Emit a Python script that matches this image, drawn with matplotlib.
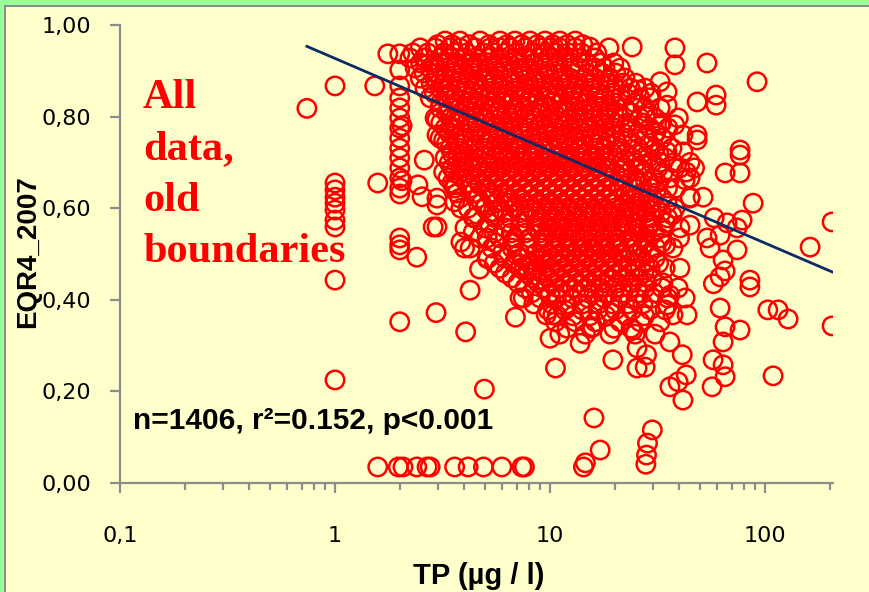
import numpy as np
import matplotlib
matplotlib.use('Agg')
import matplotlib.pyplot as plt
from matplotlib.patches import Rectangle
from matplotlib.ticker import FixedLocator, FuncFormatter, LogLocator, NullFormatter


# dense part of the cloud, row by row: EQR level and the TP values on that row
core_eqr = [0.965, 0.950, 0.928, 0.906, 0.884, 0.862, 0.841, 0.819, 0.797, 0.775,
            0.753, 0.731, 0.710, 0.688, 0.666, 0.644, 0.622, 0.600, 0.579, 0.557,
            0.535, 0.513, 0.491, 0.469, 0.448, 0.426, 0.404, 0.378, 0.352, 0.325]
core_tp = [
    [3.25, 3.81, 4.73, 5.85, 6.87, 8.07, 9.48, 11.1, 13.1],
    [2.49, 2.92, 3.43, 3.81, 4.48, 5.26, 5.85, 6.52, 7.65, 8.99, 10.0, 11.1, 13.1],
    [2.23, 2.62, 3.08, 3.43, 4.02, 4.48, 5.26, 5.85, 6.87, 7.65, 8.99, 10.0, 11.7, 13.8, 16.2],
    [2.36, 2.77, 3.25, 3.61, 4.25, 4.73, 5.55, 6.18, 7.25, 8.07, 9.48, 10.6, 12.4, 13.8, 16.2, 18.0, 21.2],
    [2.49, 2.92, 3.25, 3.81, 4.25, 4.99, 5.55, 6.52, 7.25, 8.52, 9.48, 11.1, 12.4, 14.6, 16.2, 19.0, 22.3],
    [2.62, 3.08, 3.43, 4.02, 4.48, 5.26, 5.85, 6.87, 7.65, 8.99, 10.0, 11.7, 13.1, 15.4, 17.1, 20.1, 23.6, 27.7],
    [2.77, 3.25, 3.61, 4.25, 4.73, 5.55, 6.18, 7.25, 8.07, 9.48, 10.6, 12.4, 13.8, 16.2, 18.0, 21.2, 26.2],
    [3.08, 3.43, 4.02, 4.48, 5.26, 5.85, 6.87, 7.65, 8.99, 10.0, 11.7, 13.1, 15.4, 17.1, 19.0, 22.3, 27.7, 32.5],
    [2.92, 3.43, 3.81, 4.48, 4.99, 5.85, 6.52, 7.65, 8.52, 10.0, 11.1, 13.1, 14.6, 17.1, 19.0, 21.2, 26.2, 30.8],
    [3.25, 3.61, 4.25, 4.73, 5.55, 6.18, 7.25, 8.07, 9.48, 10.6, 12.4, 13.8, 15.4, 18.0, 20.1, 23.6, 29.2, 35.4],
    [3.08, 3.61, 4.02, 4.73, 5.26, 6.18, 6.87, 8.07, 8.99, 10.6, 11.7, 13.1, 15.4, 17.1, 19.0, 23.1, 27.7, 33.2],
    [3.43, 3.81, 4.48, 4.99, 5.85, 6.52, 7.25, 8.52, 9.48, 11.1, 12.4, 13.8, 16.2, 18.0, 21.2, 25.7, 30.8, 36.9],
    [3.25, 3.73, 4.25, 4.99, 5.55, 6.38, 7.25, 8.25, 9.38, 10.7, 12.1, 13.8, 15.7, 17.8, 20.7, 24.1, 28.6, 34.3],
    [3.50, 4.02, 4.63, 5.26, 5.98, 6.80, 7.73, 8.80, 10.0, 11.4, 12.9, 14.7, 16.7, 19.0, 22.3, 26.2, 31.8, 40.2],
    [3.35, 3.89, 4.48, 5.15, 5.85, 6.66, 7.57, 8.61, 9.79, 11.1, 12.7, 14.4, 16.4, 18.6, 21.6, 25.1, 30.1, 36.1],
    [3.61, 4.25, 4.99, 5.73, 6.52, 7.41, 8.43, 9.58, 10.9, 12.4, 14.1, 16.0, 18.2, 21.2, 24.9, 29.2, 35.2],
    [3.81, 4.63, 5.37, 6.24, 7.25, 8.43, 9.58, 10.9, 12.4, 14.1, 16.0, 18.2, 20.7, 24.1, 28.6, 33.2, 44.8],
    [4.16, 4.99, 5.85, 6.87, 8.07, 9.18, 10.4, 11.9, 13.5, 15.4, 17.5, 19.9, 23.1, 26.8, 31.1, 38.1],
    [4.48, 5.55, 6.52, 7.65, 8.99, 10.2, 11.6, 13.2, 15.0, 17.1, 19.4, 22.1, 25.7, 29.8, 35.2],
    [4.02, 4.99, 6.18, 7.25, 8.61, 9.79, 11.1, 12.7, 14.4, 16.4, 18.6, 21.2, 24.6, 28.6, 33.2, 40.2],
    [4.73, 5.85, 6.87, 8.07, 9.38, 10.7, 12.1, 13.8, 15.7, 17.8, 20.3, 23.6, 27.7, 32.5],
    [4.25, 5.37, 6.66, 7.90, 9.18, 10.4, 11.9, 13.5, 15.4, 17.5, 19.9, 23.1, 26.8, 31.1, 37.3],
    [5.15, 6.18, 7.41, 8.99, 10.2, 11.6, 13.2, 15.0, 17.1, 19.4, 22.3, 26.2, 30.8],
    [5.85, 7.25, 8.61, 10.0, 11.4, 12.9, 14.7, 16.7, 19.0, 21.6, 25.1, 29.2, 34.3, 40.2],
    [6.66, 8.25, 9.79, 11.1, 12.7, 14.4, 16.4, 19.0, 22.1, 25.7, 29.8],
    [7.65, 9.48, 10.9, 12.7, 14.7, 17.1, 20.1, 23.6, 27.7, 33.2, 39.4],
    [7.25, 8.99, 10.7, 12.7, 15.0, 17.8, 21.2, 25.1, 29.8, 35.2],
    [9.79, 11.7, 14.1, 16.7, 20.1, 24.1, 29.2, 34.3],
    [10.6, 13.1, 16.2, 21.2, 26.2, 32.5],
    [11.1, 14.6, 19.0, 24.9, 30.8],
]

# the rows lying between the ones above
core2_eqr = [0.957, 0.939, 0.917, 0.895, 0.873, 0.851, 0.830, 0.808, 0.786, 0.764,
             0.742, 0.720, 0.699, 0.677, 0.655, 0.633, 0.611, 0.590, 0.568, 0.546,
             0.524, 0.502, 0.480, 0.458, 0.437, 0.415, 0.391, 0.365, 0.338]
core2_tp = [
    [3.0, 3.5, 4.2, 5.2, 6.3, 7.4, 8.7, 10.3, 12.0, 14.2],
    [2.3, 2.7, 3.2, 3.6, 4.1, 4.9, 5.5, 6.2, 7.0, 8.3, 9.5, 10.6, 12.2, 14.0, 16.5],
    [2.5, 2.9, 3.3, 3.7, 4.3, 4.6, 5.1, 5.7, 6.5, 7.2, 8.4, 9.3, 10.9, 12.8, 14.9, 17.3, 19.8],
    [2.6, 3.0, 3.5, 3.9, 4.4, 5.2, 5.8, 6.7, 7.6, 8.8, 9.9, 11.4, 13.0, 15.0, 17.5, 20.2],
    [2.8, 3.2, 3.7, 4.1, 4.6, 5.4, 6.1, 6.9, 8.0, 9.1, 10.4, 12.0, 13.6, 15.8, 18.4, 21.8, 25.0],
    [2.9, 3.4, 3.9, 4.4, 5.0, 5.6, 6.4, 7.3, 8.3, 9.6, 10.8, 12.6, 14.2, 16.6, 19.4, 23.0, 29.5],
    [3.1, 3.6, 4.1, 4.6, 5.3, 6.0, 6.7, 7.8, 8.8, 10.2, 11.3, 13.0, 14.8, 16.9, 20.0, 24.8],
    [3.3, 3.8, 4.3, 4.9, 5.6, 6.3, 7.1, 8.1, 9.2, 10.5, 12.0, 13.5, 16.0, 18.3, 20.6, 24.0, 28.5],
    [3.1, 3.6, 4.1, 4.6, 5.3, 6.1, 6.8, 7.9, 9.0, 10.3, 11.6, 13.4, 15.0, 17.6, 19.9, 22.8, 27.0, 33.0],
    [3.4, 3.9, 4.5, 5.1, 5.8, 6.6, 7.5, 8.6, 9.8, 11.2, 12.8, 14.5, 16.6, 19.2, 21.9, 25.5, 31.0],
    [3.3, 3.7, 4.3, 5.0, 5.6, 6.4, 7.2, 8.3, 9.3, 10.9, 12.2, 13.9, 16.0, 18.2, 20.5, 24.2, 29.0],
    [3.5, 4.0, 4.7, 5.3, 6.1, 6.9, 7.8, 8.9, 10.1, 11.5, 13.1, 14.9, 17.0, 19.5, 22.5, 26.8, 32.0],
    [3.4, 3.9, 4.4, 5.1, 5.8, 6.6, 7.5, 8.5, 9.7, 11.0, 12.5, 14.2, 16.2, 18.4, 21.4, 25.0, 29.7, 37.5],
    [3.6, 4.2, 4.8, 5.5, 6.2, 7.1, 8.1, 9.2, 10.5, 12.0, 13.6, 15.5, 17.6, 20.1, 23.2, 27.4, 33.5],
    [3.5, 4.1, 4.7, 5.4, 6.1, 7.0, 7.9, 9.0, 10.3, 11.7, 13.3, 15.2, 17.3, 19.8, 22.9, 26.6, 31.5],
    [3.7, 4.4, 5.2, 6.0, 6.9, 7.8, 8.9, 10.2, 11.6, 13.2, 15.1, 17.2, 19.6, 22.6, 26.7, 31.0],
    [4.8, 5.6, 6.5, 7.6, 8.7, 9.9, 11.3, 12.9, 14.8, 16.8, 19.2, 22.0, 25.4, 29.6, 35.0],
    [5.2, 6.1, 7.2, 8.4, 9.6, 10.9, 12.5, 14.3, 16.2, 18.6, 21.3, 24.5, 28.0, 32.8],
    [5.2, 6.4, 7.4, 8.8, 10.0, 11.3, 12.9, 14.7, 16.8, 19.1, 21.9, 25.2, 29.2, 34.5],
    [5.5, 6.6, 7.7, 9.0, 10.3, 11.6, 13.2, 15.0, 17.1, 19.5, 22.4, 26.0, 30.5],
    [5.6, 6.8, 8.0, 9.3, 10.6, 12.2, 13.9, 15.8, 18.0, 20.6, 24.0, 28.0, 33.0],
    [6.0, 7.2, 8.6, 9.8, 11.2, 12.7, 14.5, 16.5, 18.8, 21.5, 25.0, 29.0],
    [5.5, 6.8, 8.0, 9.5, 10.8, 12.3, 14.0, 16.0, 18.1, 20.6, 23.7, 27.6, 32.0],
    [6.2, 7.8, 9.2, 10.5, 12.0, 13.6, 15.6, 17.8, 20.4, 23.5, 27.3],
    [7.1, 8.8, 10.3, 11.8, 13.5, 15.5, 17.8, 20.7, 24.0, 28.0, 33.5],
    [8.2, 10.0, 11.6, 13.6, 16.0, 18.5, 21.8, 25.8, 30.5],
    [8.4, 10.2, 12.0, 14.2, 16.8, 19.5, 23.0, 27.0],
    [10.8, 12.8, 15.3, 18.2, 22.6, 27.5],
    [12.0, 15.5, 19.8, 23.8],
]

# scattered sites around the cloud
tp_edge = [0.74, 1, 1, 1, 1, 1, 1, 1, 1, 1, 1, 1.53, 1.58, 1.76,
           2, 2, 2, 2, 2, 2, 2, 2, 2, 2, 2, 2, 2, 2, 2, 2, 2, 2, 2.05, 2.05,
           2.4, 2.43, 2.54, 2.6, 2.6, 2.86, 2.98, 2.98, 2.98, 2.98, 2.98,
           3.2, 3.2, 3.6, 3.6, 3.85, 4.4, 3.85, 4.4, 4.7, 5.1, 5.45, 6.7,
           2.95, 4.05, 4.95, 4.25, 4.7, 5.1, 4.0,
           7.5, 6.9, 10, 10.6, 9.6, 10.3, 10, 8.4, 7.6, 7.0, 9.3,
           14.6, 14.3, 17.1, 16.0, 27.9, 28.1, 28.4, 29.9,
           19.6, 13.8, 15.8, 19.0, 24.3, 25.4, 25.4, 27.7, 28.1,
           36.1, 41.2, 41.5, 36.1, 39.4, 43, 43.4, 37.3, 35.2, 42.5, 36.1,
           56.7, 57.3, 63.8, 65.2, 63.8, 65.2, 76.5, 61.8, 57.5, 65.2, 61.8,
           85, 85, 103, 115, 128, 205, 109, 162, 205,
           78.2, 66.6, 74.1, 61.8, 88, 76.5, 76.5, 76.5, 65.2,
           53.7, 38.1, 38.1, 24.1, 18.8, 15.3, 91.8, 48.3, 59.2, 59.2, 48.3, 48.3,
           44.8, 44.8, 42.5, 51.5, 44.8, 41.5, 39.5, 32.5, 35, 29, 25.5, 35, 38,
           32.5, 28, 31, 43, 41.5, 35, 32.5, 27, 29, 47, 38.5, 25.4, 23.6, 29,
           37, 44.8, 53.7, 58, 40, 34.5, 29, 22.8, 20.6, 25.4, 17.1, 23.6,
           74.1, 63.8, 55.5]
eqr_edge = [0.818, 0.867, 0.655, 0.640, 0.624, 0.611, 0.596, 0.574, 0.559, 0.443, 0.225, 0.867, 0.655, 0.937,
            0.937, 0.902, 0.867, 0.841, 0.819, 0.797, 0.775, 0.753, 0.731, 0.710, 0.688, 0.666, 0.644, 0.631,
            0.535, 0.520, 0.509, 0.352, 0.780, 0.660,
            0.493, 0.651, 0.625, 0.705, 0.928, 0.559, 0.622, 0.607, 0.559, 0.793, 0.760,
            0.749, 0.679, 0.651, 0.614, 0.600, 0.579, 0.526, 0.548, 0.651, 0.535, 0.592, 0.526,
            0.372, 0.330, 0.205, 0.421, 0.467, 0.490, 0.513,
            0.404, 0.362, 0.316, 0.251, 0.367, 0.367, 0.410, 0.465, 0.472, 0.498, 0.490,
            0.044, 0.035, 0.072, 0.142, 0.041, 0.061, 0.087, 0.116,
            0.269, 0.305, 0.341, 0.373, 0.334, 0.295, 0.251, 0.253, 0.280,
            0.308, 0.280, 0.181, 0.210, 0.221, 0.236, 0.367, 0.367, 0.389, 0.404, 0.410,
            0.210, 0.269, 0.258, 0.232, 0.308, 0.341, 0.334, 0.382, 0.435, 0.463, 0.450,
            0.443, 0.428, 0.378, 0.378, 0.358, 0.343, 0.234, 0.515, 0.570,
            0.574, 0.568, 0.557, 0.541, 0.611, 0.727, 0.716, 0.677, 0.677,
            0.917, 0.950, 0.913, 0.952, 0.950, 0.952, 0.876, 0.832, 0.847, 0.825, 0.760, 0.749,
            0.700, 0.666, 0.662, 0.624, 0.624, 0.760, 0.797, 0.876, 0.854, 0.841, 0.858, 0.825, 0.782,
            0.782, 0.800, 0.766, 0.679, 0.723, 0.723, 0.700, 0.695, 0.657, 0.688, 0.644, 0.657, 0.629, 0.607,
            0.585, 0.563, 0.535, 0.579, 0.535, 0.520, 0.563, 0.563, 0.520, 0.520, 0.520, 0.592,
            0.509, 0.487, 0.513]

# sites with EQR close to zero
tp_zero = [1.58, 1.97, 2.07, 2.4, 2.68, 2.77, 3.6, 4.16, 4.9, 5.97, 7.4, 7.6]
eqr_zero = 0.035

# regression EQR = a + b * log10(TP)
trend_a = 0.927
trend_b = -0.2016

n_sites = 1406
r2 = 0.152

tp = list(tp_edge) + list(tp_zero)
eqr = list(eqr_edge) + [eqr_zero] * len(tp_zero)
for level, row in list(zip(core_eqr, core_tp)) + list(zip(core2_eqr, core2_tp)):
    tp += row
    eqr += [level] * len(row)

W, H = 869, 592
fig = plt.figure(figsize=(W / 100, H / 100), dpi=100, facecolor='#FFFFCC')

# green frame of the chart area (top and left edge)
fig.add_artist(Rectangle((0, 1 - 5 / H), 1, 5 / H, transform=fig.transFigure,
                         facecolor='#99FF99', edgecolor='none'))
fig.add_artist(Rectangle((0, 0), 4 / W, 1, transform=fig.transFigure,
                         facecolor='#99FF99', edgecolor='none'))
fig.add_artist(Rectangle((4 / W, 0), 2 / W, 1 - 5 / H, transform=fig.transFigure,
                         facecolor='#8c8c8c', edgecolor='none'))
fig.add_artist(Rectangle((4 / W, 1 - 7 / H), 1, 2 / H, transform=fig.transFigure,
                         facecolor='#8c8c8c', edgecolor='none'))

ax = fig.add_axes([120 / W, (H - 483) / H, (833 - 120) / W, (483 - 25) / H])
ax.set_facecolor('#FFFFCC')

ax.scatter(tp, eqr, s=175, facecolors='none', edgecolors='#FF0000', linewidths=1.8, zorder=2)

xs = np.array([min(tp), max(tp)])
ax.plot(xs, trend_a + trend_b * np.log10(xs), color='#0B2A66', lw=2, zorder=3)

ax.set_xscale('log')
ax.set_xlim(0.1, 207)
ax.set_ylim(0, 1)

ax.xaxis.set_major_locator(FixedLocator([0.1, 1, 10, 100]))
ax.xaxis.set_major_formatter(FuncFormatter(lambda v, p: f'{v:g}'.replace('.', ',')))
ax.xaxis.set_minor_locator(LogLocator(base=10, subs=np.arange(2, 10)))
ax.xaxis.set_minor_formatter(NullFormatter())
ax.yaxis.set_major_locator(FixedLocator([0, 0.2, 0.4, 0.6, 0.8, 1.0]))
ax.yaxis.set_major_formatter(FuncFormatter(lambda v, p: f'{v:.2f}'.replace('.', ',')))

for side in ['top', 'right']:
    ax.spines[side].set_visible(False)
for side in ['left', 'bottom']:
    ax.spines[side].set_color('#8c8c8c')
    ax.spines[side].set_linewidth(1.6)

ax.tick_params(axis='y', which='major', direction='out', length=7, width=1.6,
               color='#8c8c8c', labelsize=16, pad=14, labelcolor='black')
ax.tick_params(axis='x', which='major', direction='out', length=7, width=1.6,
               color='#8c8c8c', labelsize=16, pad=24, labelcolor='black')
ax.tick_params(axis='x', which='minor', direction='out', length=5, width=1.6, color='#8c8c8c')

fig.text(28 / W, 1 - 252 / H, 'EQR4_2007', rotation=90, ha='center', va='center',
         fontsize=20, fontweight='bold', family='Liberation Sans')
fig.text(479 / W, 1 - 576 / H, 'TP (µg / l)', ha='center', va='center',
         fontsize=21, fontweight='bold', family='Liberation Sans')

fig.text(133 / W, 1 - 421 / H, f'n={n_sites}, r²={r2:.3f}, p<0.001', ha='left', va='center',
         fontsize=21.5, fontweight='bold', family='Liberation Sans')

for i, word in enumerate(['All', 'data,', 'old', 'boundaries']):
    fig.text(143 / W, 1 - (108 + 51.3 * i) / H, word, ha='left', va='baseline',
             fontsize=30.5, fontweight='bold', family='Liberation Serif', color='#FF0000')

fig.savefig('out.png', dpi=100, facecolor=fig.get_facecolor())
